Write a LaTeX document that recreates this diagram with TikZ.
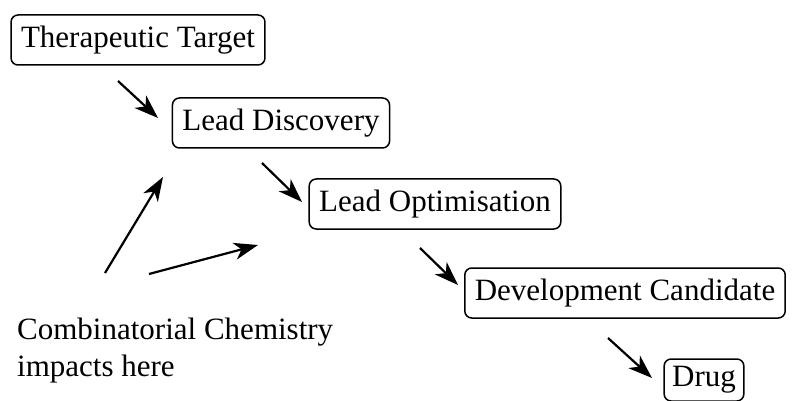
\documentclass[tikz,border=0pt]{standalone}
\usepackage{fontspec}
\setmainfont{Liberation Serif}
\usetikzlibrary{arrows.meta}
\begin{document}
\begin{tikzpicture}[x=1pt,y=-1pt,
  stage/.style={draw,line width=1.5pt,rounded corners=7pt,inner xsep=10pt,
    minimum height=50pt,font=\fontsize{31}{37}\selectfont},
  flow/.style={line width=2.2pt,-{Stealth[length=24pt,width=17pt,inset=7pt]}}]
\useasboundingbox (0,0) rectangle (793,401);
\node[stage] (tt) at (138,40) {Therapeutic Target};
\node[stage] (ld) at (281,123) {Lead Discovery};
\node[stage] (lo) at (435,204) {Lead Optimisation};
\node[stage] (dc) at (625,293) {Development Candidate};
\node[stage,minimum height=42pt,inner xsep=8pt] (dr) at (704,380) {Drug};
\node[anchor=north west,align=left,inner sep=0pt,font=\fontsize{31}{37}\selectfont] (cc) at (17,318)
  {Combinatorial Chemistry\\impacts here};
\coordinate (a1s) at (118,81); \coordinate (a1e) at (158,118);
\coordinate (a2s) at (262,163); \coordinate (a2e) at (302,202);
\coordinate (a3s) at (420,248); \coordinate (a3e) at (458,285);
\coordinate (a4s) at (608,338); \coordinate (a4e) at (652,378);
\coordinate (u1s) at (105,273); \coordinate (u1e) at (163,177);
\coordinate (u2s) at (149,274); \coordinate (u2e) at (258,245);
\draw[flow] (a1s) -- (a1e);
\draw[flow] (a2s) -- (a2e);
\draw[flow] (a3s) -- (a3e);
\draw[flow] (a4s) -- (a4e);
\draw[flow] (u1s) -- (u1e);
\draw[flow] (u2s) -- (u2e);
\end{tikzpicture}
\end{document}
